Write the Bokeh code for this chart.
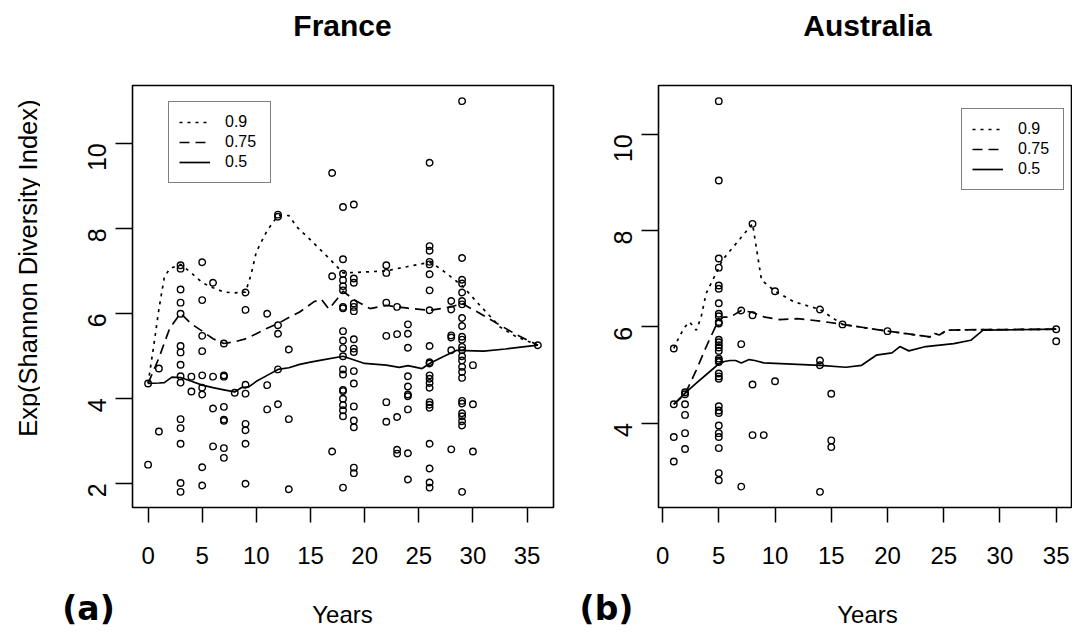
import math
from bokeh.plotting import figure
from bokeh.models import Range1d, FixedTicker, Label, Legend, LegendItem
from bokeh.layouts import row, column
from bokeh.embed import file_html
from bokeh.resources import INLINE

FONT = "Liberation Sans"

# ---------------- France data ----------------
fr_years = [0, 1, 3, 4, 5, 6, 7, 8, 9, 11, 12, 13, 17, 18, 19, 22, 23, 24, 26, 28, 29, 30, 36]
fr_values = [
    [4.35, 2.44],
    [4.70, 3.22],
    [7.13, 7.05, 6.56, 6.25, 5.99, 5.23, 5.08, 4.79, 4.52, 4.37, 3.51, 3.30, 2.93, 2.01, 1.80],
    [4.51, 4.16],
    [7.20, 6.31, 5.47, 5.11, 4.54, 4.25, 4.09, 2.38, 1.95],
    [6.72, 4.51, 3.76, 2.87],
    [5.29, 4.54, 4.51, 3.80, 3.50, 3.47, 2.83, 2.60],
    [4.13],
    [6.49, 6.08, 4.32, 4.11, 3.40, 3.25, 2.93, 1.99],
    [5.99, 4.31, 3.74],
    [8.32, 8.27, 5.72, 5.52, 4.68, 3.86],
    [5.15, 3.51, 1.86],
    [9.30, 6.87, 2.75],
    [8.50, 7.27, 6.93, 6.78, 6.64, 6.54, 6.15, 6.12, 5.58, 5.36, 5.18, 4.99, 4.68, 4.56,
     4.20, 4.17, 3.99, 3.84, 3.72, 3.58, 1.90],
    [8.56, 6.82, 6.72, 6.23, 6.15, 6.05, 5.39, 5.17, 5.09, 4.64, 4.35, 3.81, 3.48, 3.32, 2.37, 2.24],
    [7.13, 6.95, 6.25, 5.47, 3.91, 3.45],
    [6.15, 5.51, 3.56, 2.79, 2.70],
    [5.74, 5.52, 5.19, 4.52, 4.28, 4.09, 4.05, 3.74, 2.71, 2.09],
    [9.54, 7.58, 7.47, 7.21, 7.15, 6.92, 6.54, 6.07, 5.23, 4.85, 4.82, 4.54, 4.46, 4.36,
     4.25, 3.91, 3.85, 3.78, 2.93, 2.35, 2.02, 1.90],
    [6.29, 6.09, 5.48, 5.43, 5.13, 2.80],
    [10.99, 7.30, 6.79, 6.70, 6.49, 6.29, 6.21, 5.89, 5.70, 5.45, 5.38, 5.21, 5.13, 4.99,
     4.89, 4.74, 4.62, 4.48, 3.94, 3.88, 3.65, 3.58, 3.46, 3.36, 1.80],
    [4.78, 3.86, 2.75],
    [5.25],
]

fr_q90_x = [0, 0.5, 1, 1.5, 2, 3, 4, 5, 6, 7, 8, 9, 9.5, 10, 11, 12, 13, 13.75, 15.3, 16.8,
            18, 20, 22, 24, 26, 27, 28, 29, 30.7, 32.5, 34, 36]
fr_q90_y = [4.35, 5.2, 6.1, 6.85, 7.05, 7.15, 6.95, 6.72, 6.6, 6.5, 6.48, 6.5, 6.9, 7.45, 7.95,
            8.3, 8.3, 8.03, 7.65, 7.27, 6.95, 6.97, 7.0, 7.1, 7.2, 7.05, 6.85, 6.65, 6.17,
            5.68, 5.45, 5.25]

fr_q75_x = [0, 1, 2, 3, 4, 5, 6, 7, 8, 9, 10, 11, 12, 13, 14, 15.3, 16, 16.7, 17.5, 18, 19,
            20.5, 22, 23, 24, 26, 28, 29, 30.7, 32.5, 34, 36]
fr_q75_y = [4.35, 4.95, 5.65, 6.0, 5.75, 5.58, 5.4, 5.29, 5.33, 5.40, 5.52, 5.65, 5.76, 5.9,
            6.03, 6.27, 6.33, 6.1, 6.35, 6.52, 6.32, 6.11, 6.19, 6.15, 6.12, 6.07, 6.15,
            6.23, 5.99, 5.72, 5.5, 5.25]

fr_q50_x = [0, 1, 1.5, 2.2, 3, 4, 5, 6, 7, 8, 8.6, 9.3, 10, 11, 12, 13, 14, 15, 16, 18, 20,
            22, 23.2, 24, 25.3, 26, 27, 28.5, 31, 33, 36]
fr_q50_y = [4.35, 4.36, 4.37, 4.5, 4.49, 4.4, 4.31, 4.25, 4.2, 4.15, 4.25, 4.27, 4.4, 4.54,
            4.68, 4.72, 4.8, 4.85, 4.9, 4.99, 4.82, 4.78, 4.73, 4.77, 4.70, 4.82, 4.95,
            5.13, 5.11, 5.16, 5.25]

# ---------------- Australia data ----------------
au_years = [1, 2, 5, 7, 8, 9, 10, 14, 15, 16, 20, 35]
au_values = [
    [5.55, 4.39, 3.71, 3.20],
    [4.64, 4.60, 4.39, 4.17, 3.79, 3.46],
    [10.69, 9.04, 7.42, 7.23, 6.86, 6.79, 6.49, 6.27, 6.22, 6.10, 6.07, 5.73, 5.68, 5.62,
     5.57, 5.50, 5.34, 5.30, 5.27, 5.03, 4.97, 4.92, 4.35, 4.26, 4.21, 3.95, 3.79, 3.71,
     3.48, 2.96, 2.81],
    [6.34, 5.64, 2.68],
    [8.14, 6.24, 4.80, 3.75],
    [3.75],
    [6.74, 4.87],
    [6.36, 5.30, 5.20, 2.57],
    [4.61, 3.64, 3.50],
    [6.05],
    [5.91],
    [5.95, 5.70],
]

au_q90_x = [1, 1.5, 2, 2.4, 3, 3.43, 3.87, 4.45, 4.9, 5.3, 6, 7, 8, 8.8, 10, 11.7, 14, 16,
            20, 23.75, 24.2, 24.6, 25.3, 28, 35]
au_q90_y = [5.55, 5.8, 6.0, 6.1, 5.93, 6.2, 6.69, 6.97, 7.17, 7.38, 7.58, 7.86, 8.14, 6.97,
            6.74, 6.52, 6.36, 6.05, 5.91, 5.79, 5.86, 5.83, 5.93, 5.94, 5.95]

au_q75_x = [1, 2, 3, 3.87, 4.9, 5.4, 6, 7, 8, 8.5, 9.1, 10.4, 12, 14, 16, 18, 20, 22, 23.75,
            24.2, 24.6, 25.3, 28, 35]
au_q75_y = [4.39, 4.6, 5.1, 5.58, 6.1, 6.2, 6.2, 6.34, 6.3, 6.25, 6.2, 6.15, 6.17, 6.12,
            6.05, 5.98, 5.91, 5.85, 5.79, 5.86, 5.83, 5.93, 5.94, 5.95]

au_q50_x = [1, 2, 3, 4, 5, 5.5, 6, 6.5, 7, 7.7, 8.2, 9, 10, 12, 14, 16.3, 17.7, 19, 20.4,
            21.1, 21.9, 23.4, 25.9, 27.4, 28.5, 35]
au_q50_y = [4.39, 4.62, 4.83, 5.03, 5.23, 5.28, 5.30, 5.30, 5.25, 5.32, 5.30, 5.25, 5.24,
            5.22, 5.20, 5.16, 5.20, 5.41, 5.46, 5.59, 5.50, 5.59, 5.65, 5.72, 5.93, 5.95]

x_ticks = [0, 5, 10, 15, 20, 25, 30, 35]
fr_y_ticks = [2, 4, 6, 8, 10]
au_y_ticks = [4, 6, 8, 10]
quantile_labels = ["0.9", "0.75", "0.5"]
dashes = ["3 5", "10 6", "solid"]
titles = ["France", "Australia"]
x_label = "Years"
y_label = "Exp(Shannon Diversity Index)"
panel_tags = ["(a)", "(b)"]


def flatten(years, values):
    xs, ys = [], []
    for yr, vals in zip(years, values):
        for v in vals:
            xs.append(yr)
            ys.append(v)
    return xs, ys


def pad_range(lo, hi):
    d = (hi - lo) * 0.04
    return lo - d, hi + d


# ---------------- layout geometry (pixels) ----------------
TOTAL_W, TOTAL_H = 1072, 629
TOP_H = 48            # strip with the titles
BOT_H = 52            # strip with "Years" and panel tags
MID_H = TOTAL_H - TOP_H - BOT_H
FRAME_TOP = 37        # inside the middle row
FRAME_H = 422
FRAME_BOT = MID_H - FRAME_TOP - FRAME_H
LEFT_W = 40           # strip with the y-axis title
W1, W2 = 540, TOTAL_W - LEFT_W - 540


def make_panel(width, left, right, years, values, curves, yticks, legend_loc):
    xs, ys = flatten(years, values)
    x0, x1 = pad_range(min(xs), max(xs))
    y0, y1 = pad_range(min(ys), max(ys))
    p = figure(width=width, height=MID_H, output_backend="svg", toolbar_location=None,
               x_range=Range1d(x0, x1), y_range=Range1d(y0, y1),
               min_border_left=left, min_border_right=right,
               min_border_top=FRAME_TOP, min_border_bottom=FRAME_BOT)
    p.grid.visible = False
    p.background_fill_color = "white"
    p.border_fill_color = "white"
    p.outline_line_color = "black"
    p.outline_line_width = 1.6
    p.outline_line_alpha = 1.0

    for ax in (p.xaxis[0], p.yaxis[0]):
        ax.axis_line_color = None
        ax.major_tick_in = 0
        ax.minor_tick_line_color = None
        ax.major_tick_line_color = "black"
        ax.major_tick_line_width = 1.5
        ax.major_label_text_font = FONT
        ax.major_label_text_color = "black"
    p.xaxis[0].ticker = FixedTicker(ticks=x_ticks)
    p.xaxis[0].major_tick_out = 15
    p.xaxis[0].major_label_text_font_size = "24px"
    p.xaxis[0].major_label_standoff = 24
    p.yaxis[0].ticker = FixedTicker(ticks=yticks)
    p.yaxis[0].major_tick_out = 17
    p.yaxis[0].major_label_text_font_size = "25px"
    p.yaxis[0].major_label_orientation = math.pi / 2
    p.yaxis[0].major_label_standoff = 18

    items = []
    for (cx, cy), lab, dash in zip(curves, quantile_labels, dashes):
        r = p.line(cx, cy, line_color="black", line_width=1.7, line_dash=dash)
        items.append(LegendItem(label=lab, renderers=[r]))

    p.scatter(xs, ys, marker="circle", size=6.5, fill_color=None, line_color="black",
              line_width=1.4)

    leg = Legend(items=items, location=legend_loc, orientation="vertical",
                 label_text_font=FONT, label_text_font_size="16px",
                 label_text_color="black",
                 glyph_width=31, glyph_height=20, label_height=20, label_width=35,
                 label_standoff=15, spacing=0, padding=10, margin=0,
                 border_line_color="black", border_line_width=1.5,
                 background_fill_color="white", background_fill_alpha=1.0)
    p.add_layout(leg)
    return p


def text_strip(width, height, texts):
    """A blank figure whose frame fills it; texts are placed in pixel units."""
    f = figure(width=width, height=height, output_backend="svg", toolbar_location=None,
               x_range=Range1d(0, width), y_range=Range1d(height, 0),
               x_axis_type=None, y_axis_type=None, min_border=0)
    f.grid.visible = False
    f.outline_line_color = None
    f.background_fill_color = "white"
    f.border_fill_color = "white"
    for (x, y, txt, size, bold, font, angle) in texts:
        f.add_layout(Label(x=x, y=y, text=txt, text_font=font, text_font_size=size,
                           text_font_style="bold" if bold else "normal",
                           text_color="black", text_align="center",
                           text_baseline="middle", angle=angle))
    return f


p1 = make_panel(W1, 92, 27, fr_years, fr_values,
                [(fr_q90_x, fr_q90_y), (fr_q75_x, fr_q75_y), (fr_q50_x, fr_q50_y)],
                fr_y_ticks, (36, 324))
p2 = make_panel(W2, 78, 1, au_years, au_values,
                [(au_q90_x, au_q90_y), (au_q75_x, au_q75_y), (au_q50_x, au_q50_y)],
                au_y_ticks, (303, 317))

top = text_strip(TOTAL_W, TOP_H, [
    (342, 25, titles[0], "30px", True, FONT, 0.0),
    (867, 25, titles[1], "30px", True, FONT, 0.0),
])
left = text_strip(LEFT_W, MID_H, [
    (27, 277 - TOP_H, y_label, "25.5px", False, FONT, math.pi / 2),
])
bottom_y0 = TOP_H + MID_H
bottom = text_strip(TOTAL_W, BOT_H, [
    (342, 614 - bottom_y0, x_label, "24px", False, FONT, 0.0),
    (867, 614 - bottom_y0, x_label, "24px", False, FONT, 0.0),
    (88, 608 - bottom_y0, panel_tags[0], "33px", True, "DejaVu Sans", 0.0),
    (606, 608 - bottom_y0, panel_tags[1], "33px", True, "DejaVu Sans", 0.0),
])

layout = column(top, row(left, p1, p2), bottom)
open("out.html", "w").write(file_html(layout, INLINE))
